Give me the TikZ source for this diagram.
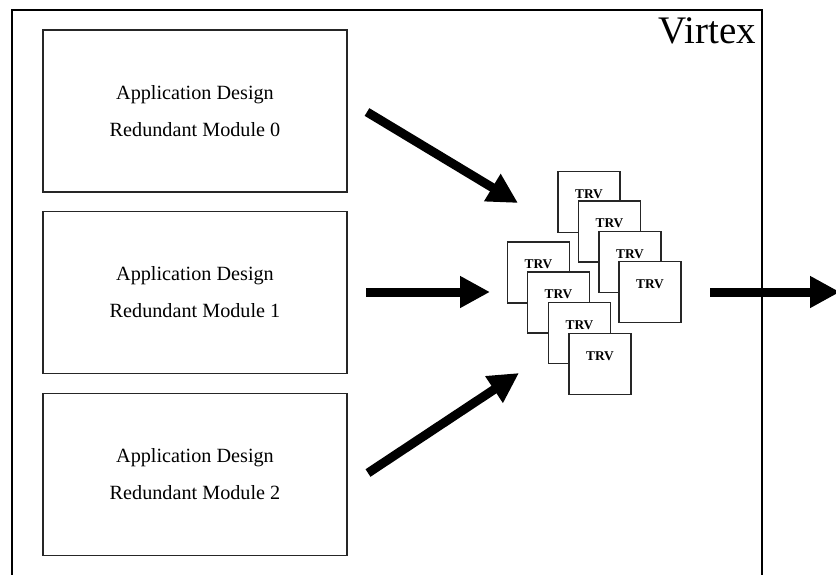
\documentclass[tikz,border=0pt]{standalone}
\usepackage{fontspec}
\setmainfont{Liberation Serif}
\usetikzlibrary{arrows.meta}
\begin{document}
\begin{tikzpicture}[x=1pt,y=-1pt,
  modbox/.style={draw=black!85,line width=1.4pt,minimum width=304pt,minimum height=162pt,
    align=center,font=\fontsize{20.2}{37}\selectfont,inner sep=0pt},
  trvbox/.style={draw=black!85,fill=white,line width=1.3pt,minimum width=62pt,minimum height=61pt,inner sep=0pt},
  trvtext/.style={font=\fontsize{13.4}{14}\selectfont\bfseries,inner sep=0pt},
  bigarrow/.style={line width=9pt,-{Triangle[length=30pt,width=30pt]}},
]
\useasboundingbox (0,0) rectangle (836,574);
\clip (0,0) rectangle (836,574);
% frame
\draw[line width=2.6pt] (12,600) -- (12,10) -- (762,10) -- (762,600);
\node[anchor=base east,font=\fontsize{39}{40}\selectfont,inner sep=0pt] (virtex) at (756,43) {Virtex};
% modules
\node[modbox] (m0) at (195,111) {Application Design\\Redundant Module 0};
\node[modbox] (m1) at (195,292.5) {Application Design\\Redundant Module 1};
\node[modbox] (m2) at (195,474.5) {Application Design\\Redundant Module 2};
% TRV cluster
\foreach \n/\x/\y in {t1/589/202, t2/609.5/231.5, t3/630/262, t4/650/292,
                      f1/538.5/272.5, f2/558.5/302.5, f3/579.5/333, f4/600/364}{
  \node[trvbox] (\n) at (\x,\y) {};
  \node[trvtext] (\n l) at ([yshift=8pt]\n.center) {TRV};
}
% arrow coordinates
\coordinate (a0s) at (367,112);
\coordinate (a0e) at (518,203);
\coordinate (a1s) at (366,292);
\coordinate (a1e) at (490,292);
\coordinate (a2s) at (368,473);
\coordinate (a2e) at (519,373);
\coordinate (os) at (710,292);
\coordinate (oe) at (840,292);
\draw[bigarrow] (a0s) -- (a0e);
\draw[bigarrow] (a1s) -- (a1e);
\draw[bigarrow] (a2s) -- (a2e);
\draw[bigarrow] (os) -- (oe);
\end{tikzpicture}
\end{document}
